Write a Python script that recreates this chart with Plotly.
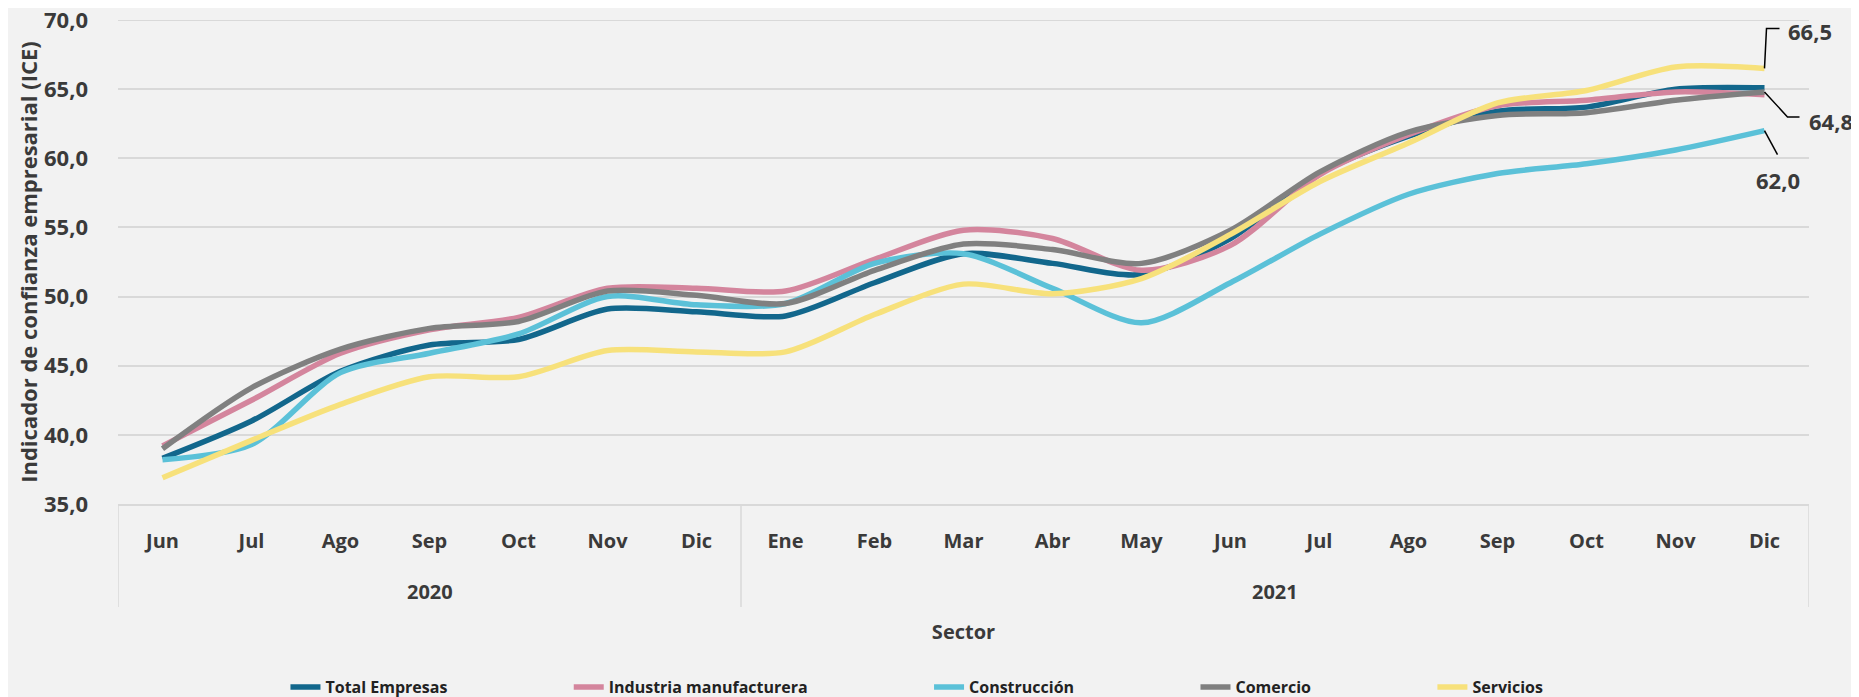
import plotly.graph_objects as go

# datos ICE por sector
anios = ["2020"] * 7 + ["2021"] * 12
meses = ["Jun", "Jul", "Ago", "Sep", "Oct", "Nov", "Dic",
         "Ene", "Feb", "Mar", "Abr", "May", "Jun", "Jul", "Ago", "Sep", "Oct", "Nov", "Dic"]

total = [38.3, 41.0, 44.6, 46.5, 46.9, 49.1, 48.9, 48.6, 51.0, 53.1, 52.4, 51.6, 54.2, 58.9, 61.6, 63.4, 63.7, 65.0, 65.1]
industria = [39.2, 42.5, 45.9, 47.6, 48.5, 50.6, 50.6, 50.4, 52.7, 54.8, 54.2, 51.9, 53.7, 58.8, 61.7, 63.8, 64.2, 64.8, 64.6]
construccion = [38.2, 39.3, 44.5, 45.9, 47.3, 50.0, 49.4, 49.5, 52.4, 53.1, 50.6, 48.1, 51.0, 54.5, 57.4, 58.9, 59.6, 60.6, 62.0]
comercio = [39.0, 43.4, 46.2, 47.7, 48.2, 50.4, 50.1, 49.5, 51.9, 53.8, 53.4, 52.4, 54.8, 59.0, 61.9, 63.1, 63.3, 64.2, 64.8]
servicios = [36.9, 39.6, 42.2, 44.2, 44.2, 46.1, 46.0, 46.0, 48.7, 50.9, 50.2, 51.3, 54.5, 58.3, 61.1, 64.0, 64.9, 66.6, 66.5]

series = [
    ("Total Empresas", total, "#12678C"),
    ("Industria manufacturera", industria, "#D4859D"),
    ("Construcción", construccion, "#5BC1D8"),
    ("Comercio", comercio, "#808080"),
    ("Servicios", servicios, "#F7E17B"),
]

texto = "#3A3A3A"
fuente = "Open Sans"
rejilla = "#D9D9D9"
rango_y = [35, 70]

# eje x: una categoria por mes (mes + año), se muestra solo el mes
claves = [f"{m} {a}" for m, a in zip(meses, anios)]

fig = go.Figure()
for nombre, valores, color in series:
    fig.add_trace(go.Scatter(
        x=claves, y=valores, name=nombre + "\u00a0" * 28, mode="lines",
        line=dict(color=color, width=5.5, shape="spline", smoothing=0.8),
    ))

# línea de rejilla superior (plotly no dibuja la del borde)
fig.add_shape(type="line", xref="paper", yref="y", x0=0, x1=1, y0=rango_y[1], y1=rango_y[1],
              layer="below", line=dict(color=rejilla, width=2))

# años debajo de los meses y separadores entre grupos
grupos = []
for i, a in enumerate(anios):
    if not grupos or grupos[-1][0] != a:
        grupos.append([a, i, i])
    else:
        grupos[-1][2] = i
for a, ini, fin in grupos:
    fig.add_annotation(x=(ini + fin) / 2, y=0, xref="x", yref="paper", yanchor="middle",
                       yshift=-87, text=a, showarrow=False,
                       font=dict(family=fuente, size=20, color=texto, weight="bold"))
    fig.add_shape(type="line", xref="x", yref="paper", x0=ini - 0.5, x1=ini - 0.5,
                  y0=0, y1=-0.213, line=dict(color=rejilla, width=1.5))
fig.add_shape(type="line", xref="x", yref="paper", x0=len(claves) - 0.5, x1=len(claves) - 0.5,
              y0=0, y1=-0.213, line=dict(color=rejilla, width=1.5))

# etiquetas del último dato (Servicios, Comercio, Construcción)
ultimo = len(claves) - 1
def fmt(v):
    return f"{v:.1f}".replace(".", ",")

etiquetas = [
    (servicios[-1], "M0,0 L2,40 L15,40", 45, 37),
    (comercio[-1], "M0,0 L23,-25 L35,-25", 66, -29),
    (construccion[-1], "M0,0 L13,-24", 13, -49),
]
for v, trazo, dx, dy in etiquetas:
    fig.add_shape(type="path", xref="x", yref="y", xsizemode="pixel", ysizemode="pixel",
                  xanchor=ultimo, yanchor=v, path=trazo,
                  line=dict(color="black", width=1.5))
    fig.add_annotation(x=ultimo, y=v, xref="x", yref="y", text=fmt(v), showarrow=False,
                       xshift=dx, yshift=dy, font=dict(family=fuente, size=22, color=texto, weight="bold"))

fig.update_layout(
    width=1851, height=689,
    paper_bgcolor="#F2F2F2", plot_bgcolor="#F2F2F2",
    separators=",.",
    margin=dict(l=110, r=50, t=12, b=193),
    font=dict(family=fuente, color=texto),
    showlegend=True,
    legend=dict(orientation="h", xref="container", yref="container", x=0.1499, y=0.0145,
                xanchor="left", yanchor="middle",
                font=dict(family=fuente, size=16, color="#222222", weight="bold"),
                itemwidth=30, tracegroupgap=0),
)
fig.update_yaxes(
    range=rango_y, dtick=5, tickformat=".1f", automargin=False,
    ticklabeloverflow="allow",
    showgrid=True, gridcolor=rejilla, gridwidth=2,
    zeroline=False, showline=False,
    tickfont=dict(family=fuente, size=22, color=texto, weight="bold"),
    ticklabelstandoff=29,
    title=dict(text="Indicador de confianza empresarial (ICE)", standoff=0,
               font=dict(family=fuente, size=22, color=texto, weight="bold")),
)
fig.update_xaxes(
    type="category", tickvals=claves, ticktext=meses, automargin=False,
    range=[-0.5, len(claves) - 0.5],
    showgrid=False, showline=True, linecolor=rejilla, linewidth=2,
    tickfont=dict(family=fuente, size=20, color=texto, weight="bold"),
    ticklabelstandoff=18,
    title=dict(text="Sector", standoff=72,
               font=dict(family=fuente, size=20, color=texto, weight="bold")),
)

fig.write_html("out.html")
